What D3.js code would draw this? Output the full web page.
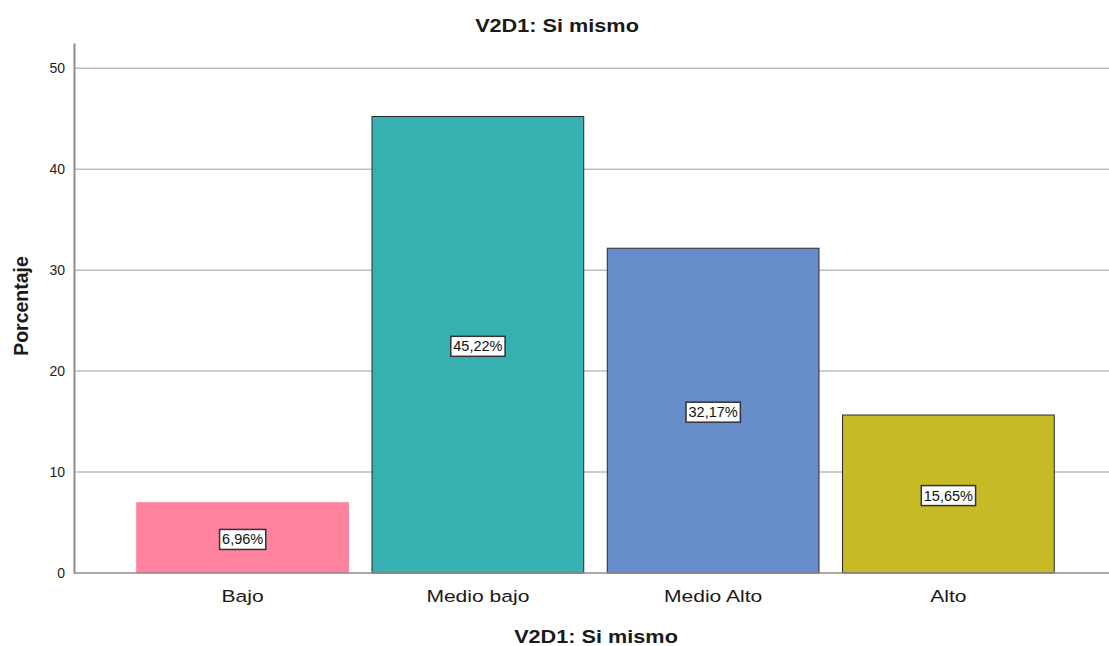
<!DOCTYPE html>
<html>
<head>
<meta charset="utf-8">
<script src="https://cdn.jsdelivr.net/npm/d3@7"></script>
<style>
  body { margin: 0; background: #fff; }
  text { font-family: "Liberation Sans", Arial, sans-serif; }
</style>
</head>
<body>
<div id="chart"></div>
<script>
// data
const categories = ['Bajo', 'Medio bajo', 'Medio Alto', 'Alto'];
const values = [6.96, 45.22, 32.17, 15.65];
const labels = ['6,96%', '45,22%', '32,17%', '15,65%'];
const colors = ['#FF839E', '#37B0B2', '#668CCA', '#C8BA24'];
const strokes = ['#FF839E', '#2b2b2b', '#2b2b2b', '#2b2b2b'];
const yTicks = [0, 10, 20, 30, 40, 50];

const width = 1109, height = 646;

const svg = d3.select('#chart')
  .append('svg')
  .attr('width', width)
  .attr('height', height);

const x = d3.scaleBand()
  .domain(categories)
  .range([125, 1066])
  .paddingInner(0.1)
  .paddingOuter(0.05);

const y = d3.scaleLinear()
  .domain([0, 52.5])
  .range([573, 43]);

// text stretched a bit wider, like the original export
function stretchText(sel, tx, ty, sx) {
  return sel.append('text')
    .attr('transform', `translate(${tx},${ty}) scale(${sx},1)`)
    .attr('text-anchor', 'middle')
    .attr('fill', '#1a1a1a');
}

// gridlines
svg.append('g')
  .selectAll('line')
  .data(yTicks.filter(d => d > 0))
  .enter()
  .append('line')
  .attr('x1', 74)
  .attr('x2', 1109)
  .attr('y1', d => y(d))
  .attr('y2', d => y(d))
  .attr('stroke', '#bdbdbd')
  .attr('stroke-width', 1.5);

// y axis
const yAxis = svg.append('g')
  .attr('transform', 'translate(74,0)')
  .call(d3.axisLeft(y).tickValues(yTicks).tickSize(0).tickPadding(9));
yAxis.select('.domain').attr('stroke', '#8c8c8c').attr('stroke-width', 2);
yAxis.selectAll('text').attr('font-size', 14).attr('fill', '#222')
  .style('font-family', '"Liberation Sans", Arial, sans-serif');

// bars
svg.append('g')
  .selectAll('rect')
  .data(values)
  .enter()
  .append('rect')
  .attr('x', (d, i) => x(categories[i]))
  .attr('width', x.bandwidth())
  .attr('y', d => y(d))
  .attr('height', d => y(0) - y(d))
  .attr('fill', (d, i) => colors[i])
  .attr('stroke', (d, i) => strokes[i])
  .attr('stroke-width', 1);

// baseline
svg.append('line')
  .attr('x1', 74).attr('x2', 1109)
  .attr('y1', y(0)).attr('y2', y(0))
  .attr('stroke', '#8c8c8c')
  .attr('stroke-width', 1.5);

// value labels
const lab = svg.append('g')
  .selectAll('g')
  .data(values)
  .enter()
  .append('g')
  .attr('transform', (d, i) => `translate(${x(categories[i]) + x.bandwidth() / 2},${y(d / 2) + 1.5})`);

lab.append('text')
  .attr('text-anchor', 'middle')
  .attr('dy', '0.35em')
  .attr('font-size', 14.5)
  .attr('fill', '#111')
  .text((d, i) => labels[i])
  .each(function () {
    const b = this.getBBox();
    d3.select(this.parentNode).insert('rect', 'text')
      .attr('x', b.x - 2.5)
      .attr('y', b.y - 2)
      .attr('width', b.width + 5)
      .attr('height', b.height + 4)
      .attr('fill', '#fff')
      .attr('stroke', '#333')
      .attr('stroke-width', 1.5);
  });

// category labels
categories.forEach(c => {
  stretchText(svg, x(c) + x.bandwidth() / 2, 602, 1.24)
    .attr('font-size', 17)
    .text(c);
});

// titles
stretchText(svg, 557, 32, 1.165)
  .attr('font-size', 18.6)
  .attr('font-weight', 'bold')
  .text('V2D1: Si mismo');

stretchText(svg, 596, 643, 1.165)
  .attr('font-size', 18.6)
  .attr('font-weight', 'bold')
  .text('V2D1: Si mismo');

svg.append('text')
  .attr('transform', 'translate(27.5,306) rotate(-90)')
  .attr('text-anchor', 'middle')
  .attr('font-size', 19.5)
  .attr('font-weight', 'bold')
  .attr('fill', '#1a1a1a')
  .text('Porcentaje');
</script>
</body>
</html>
